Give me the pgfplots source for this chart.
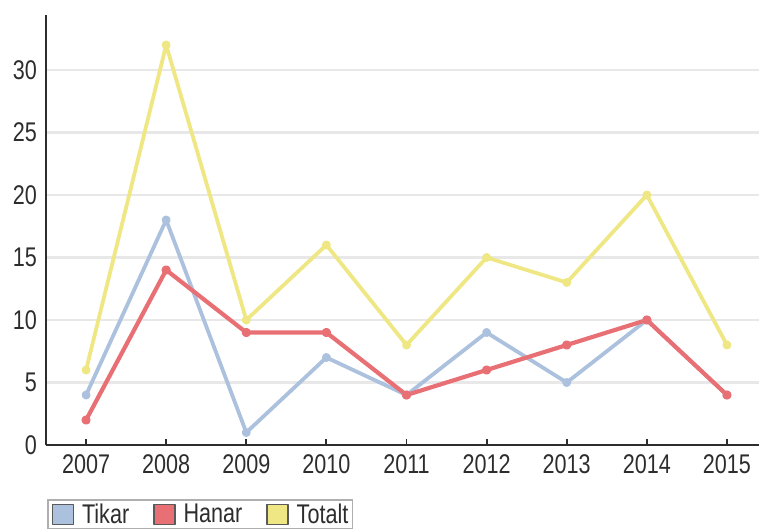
\documentclass[border=0pt]{standalone}
\usepackage{fontspec}
\setmainfont{Liberation Sans}[FakeStretch=0.8]
\usepackage{pgfplots}
\pgfplotsset{compat=1.18}
\usetikzlibrary{calc}
\definecolor{tikarcol}{RGB}{172,193,222}
\definecolor{hanarcol}{RGB}{232,112,116}
\definecolor{totaltcol}{RGB}{238,231,132}
\definecolor{axisgray}{RGB}{45,45,45}
\definecolor{gridgray}{RGB}{232,232,232}
\definecolor{legendgray}{RGB}{175,175,175}
\definecolor{patchedge}{RGB}{90,90,90}

\begin{document}
\begin{tikzpicture}
\begin{axis}[
    scale only axis,
    width=713pt, height=430pt,
    xmin=2006.5, xmax=2015.4,
    ymin=0, ymax=34.4,
    axis lines*=left,
    axis line style={line width=2pt, color=axisgray},
    xtick={2007,2008,...,2015},
    ytick={0,5,...,30},
    ymajorgrids,
    grid style={line width=2.5pt, color=gridgray},
    tick align=inside,
    major tick length=6pt,
    x tick style={line width=1.8pt, color=axisgray},
    y tick style={draw=none},
    /pgf/number format/assume math mode=true,
    /pgf/number format/1000 sep={},
    tick label style={font=\fontsize{27}{30}\selectfont, text=axisgray, inner sep=0pt},
    xticklabel style={yshift=-9pt},
    yticklabel style={xshift=-9pt},
    legend columns=3,
    legend style={
        at={(axis description cs:0.0014,-0.1256)}, anchor=north west,
        draw=legendgray, line width=1.5pt, fill=white,
        font=\fontsize{27}{30}\selectfont, text=axisgray,
        inner xsep=4pt, inner ysep=4pt,
        /tikz/every odd column/.append style={column sep=8pt},
        /tikz/every even column/.append style={column sep=24pt},
        nodes={inner xsep=0pt, inner ysep=0pt},
    },
]
\coordinate (bl) at (rel axis cs:0,0);
\coordinate (tr) at (rel axis cs:1,1);

\addplot[color=tikarcol, line width=3.8pt, line join=round, mark=*, mark size=2.5pt,
    legend image code/.code={\draw[fill=tikarcol, draw=patchedge, line width=1.3pt] (0pt,-10pt) rectangle (21pt,10pt);}]
coordinates {(2007,4) (2008,18) (2009,1) (2010,7) (2011,4) (2012,9) (2013,5) (2014,10) (2015,4)};
\addlegendentry{Tikar}

\addplot[color=hanarcol, line width=4.2pt, line join=round, mark=*, mark size=2.5pt,
    legend image code/.code={\draw[fill=hanarcol, draw=patchedge, line width=1.3pt] (0pt,-10pt) rectangle (21pt,10pt);}]
coordinates {(2007,2) (2008,14) (2009,9) (2010,9) (2011,4) (2012,6) (2013,8) (2014,10) (2015,4)};
\addlegendentry{Hanar}

\addplot[color=totaltcol, line width=3.8pt, line join=round, mark=*, mark size=2.5pt,
    legend image code/.code={\draw[fill=totaltcol, draw=patchedge, line width=1.3pt] (0pt,-10pt) rectangle (21pt,10pt);}]
coordinates {(2007,6) (2008,32) (2009,10) (2010,16) (2011,8) (2012,15) (2013,13) (2014,20) (2015,8)};
\addlegendentry{Totalt}
\end{axis}
\pgfresetboundingbox
\path ($(bl)+(-46pt,-83pt)$) rectangle ($(tr)+(0pt,15pt)$);
\end{tikzpicture}
\end{document}
